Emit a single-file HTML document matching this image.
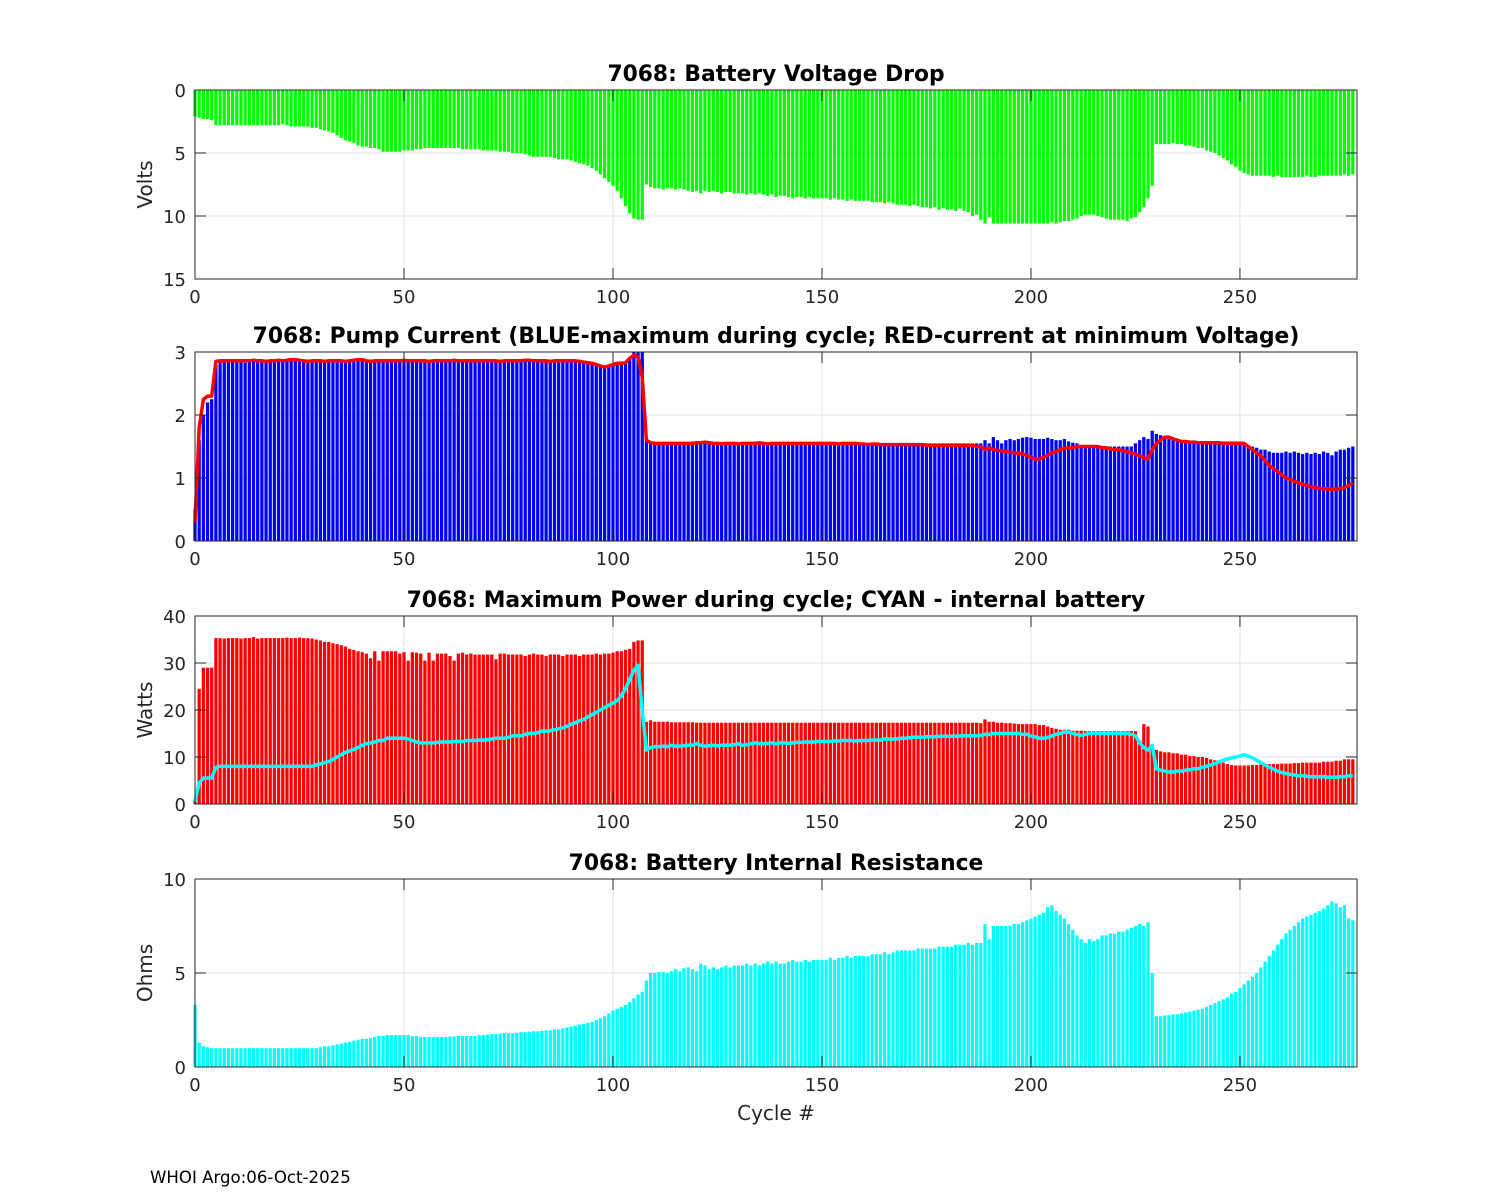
<!DOCTYPE html>
<html><head><meta charset="utf-8"><title>7068 battery diagnostics</title>
<style>
html,body{margin:0;padding:0;background:#fff;}
svg{display:block;font-family:"DejaVu Sans","Liberation Sans",sans-serif;}
</style></head>
<body>
<svg id="chart" width="1500" height="1200" viewBox="0 0 1500 1200" xmlns="http://www.w3.org/2000/svg">
<rect width="1500" height="1200" fill="#fff"/>
<text x="150" y="1183" font-size="16.6" fill="#000">WHOI Argo:06-Oct-2025</text>
<text x="776" y="1120" font-size="20" fill="#262626" text-anchor="middle">Cycle #</text>
</svg>
<script>
// ---------- data ----------
const xTicks = [0,50,100,150,200,250];
const voltageDrop = [
2.1,2.2,2.3,2.3,2.4,2.8,2.8,2.8,2.8,2.8,
2.8,2.8,2.8,2.8,2.8,2.8,2.8,2.8,2.8,2.8,
2.8,2.7,2.8,2.9,2.9,2.9,2.9,2.9,3.0,3.0,
3.1,3.2,3.3,3.4,3.6,3.8,4.0,4.1,4.2,4.4,
4.5,4.5,4.6,4.6,4.7,4.9,4.9,4.9,4.9,4.9,
4.8,4.8,4.8,4.7,4.7,4.6,4.6,4.6,4.6,4.6,
4.6,4.6,4.6,4.6,4.7,4.7,4.7,4.7,4.7,4.8,
4.8,4.8,4.8,4.9,4.9,4.9,5.0,5.0,5.0,5.1,
5.2,5.3,5.3,5.3,5.3,5.3,5.4,5.5,5.5,5.5,
5.6,5.7,5.8,5.9,6.0,6.2,6.4,6.7,7.0,7.3,
7.6,8.0,8.6,9.2,9.8,10.2,10.3,10.3,7.5,7.7,
7.8,7.8,7.9,7.8,7.8,7.9,7.8,7.9,8.0,8.1,
8.0,8.2,8.0,8.1,8.0,8.1,8.2,8.1,8.1,8.2,
8.2,8.2,8.3,8.2,8.3,8.2,8.3,8.4,8.3,8.5,
8.4,8.4,8.5,8.6,8.5,8.5,8.6,8.5,8.6,8.6,
8.6,8.6,8.7,8.6,8.7,8.7,8.8,8.7,8.8,8.8,
8.8,8.8,8.9,8.9,8.9,9.0,8.9,9.0,9.1,9.1,
9.1,9.2,9.1,9.2,9.3,9.3,9.4,9.3,9.5,9.4,
9.5,9.5,9.6,9.4,9.6,9.7,10.0,9.9,10.3,10.6,
10.1,10.6,10.6,10.6,10.6,10.6,10.6,10.6,10.6,10.6,
10.6,10.6,10.6,10.6,10.6,10.5,10.6,10.5,10.4,10.4,
10.3,10.2,10.0,9.9,9.9,9.9,10.0,10.1,10.2,10.3,
10.3,10.3,10.3,10.4,10.2,10.1,9.7,9.3,8.6,7.6,
4.3,4.3,4.3,4.3,4.2,4.3,4.3,4.4,4.4,4.5,
4.6,4.6,4.8,4.9,5.0,5.2,5.4,5.6,5.9,6.1,
6.4,6.6,6.7,6.8,6.8,6.8,6.8,6.8,6.9,6.8,
6.9,6.9,6.9,6.9,6.9,6.9,6.8,6.9,6.9,6.8,
6.8,6.8,6.8,6.8,6.8,6.7,6.8,6.7];
const maxCurrent = [
0.5,1.6,2.0,2.2,2.25,2.8,2.85,2.85,2.85,2.85,
2.85,2.85,2.83,2.85,2.87,2.85,2.85,2.83,2.85,2.85,
2.87,2.85,2.85,2.87,2.87,2.85,2.85,2.83,2.85,2.85,
2.85,2.83,2.85,2.85,2.85,2.85,2.83,2.85,2.85,2.87,
2.87,2.85,2.83,2.85,2.85,2.85,2.85,2.85,2.85,2.85,
2.87,2.85,2.85,2.85,2.85,2.85,2.83,2.85,2.85,2.85,
2.85,2.85,2.87,2.85,2.85,2.85,2.85,2.85,2.85,2.85,
2.85,2.85,2.85,2.83,2.85,2.85,2.85,2.85,2.85,2.85,
2.85,2.85,2.85,2.85,2.85,2.83,2.85,2.85,2.85,2.85,
2.85,2.85,2.85,2.83,2.82,2.8,2.8,2.78,2.76,2.78,
2.8,2.82,2.85,2.85,2.9,3.0,3.0,3.0,1.6,1.55,
1.55,1.55,1.55,1.55,1.55,1.55,1.55,1.55,1.55,1.55,
1.55,1.55,1.56,1.55,1.55,1.55,1.55,1.55,1.55,1.55,
1.55,1.55,1.55,1.55,1.55,1.55,1.55,1.55,1.55,1.55,
1.55,1.55,1.55,1.55,1.55,1.55,1.55,1.55,1.55,1.55,
1.55,1.55,1.55,1.55,1.55,1.55,1.55,1.55,1.55,1.55,
1.55,1.55,1.55,1.55,1.55,1.55,1.55,1.55,1.55,1.55,
1.55,1.55,1.55,1.55,1.55,1.55,1.55,1.55,1.55,1.55,
1.55,1.55,1.55,1.55,1.55,1.55,1.55,1.55,1.55,1.6,
1.55,1.65,1.6,1.55,1.6,1.62,1.6,1.62,1.64,1.65,
1.64,1.62,1.62,1.62,1.64,1.62,1.6,1.6,1.62,1.58,
1.56,1.55,1.5,1.5,1.5,1.5,1.5,1.5,1.5,1.5,
1.5,1.5,1.5,1.5,1.5,1.55,1.6,1.65,1.62,1.75,
1.7,1.68,1.65,1.62,1.6,1.58,1.58,1.58,1.58,1.58,
1.58,1.58,1.58,1.58,1.58,1.58,1.58,1.58,1.58,1.58,
1.58,1.55,1.52,1.5,1.48,1.45,1.45,1.42,1.4,1.4,
1.4,1.42,1.4,1.42,1.4,1.38,1.4,1.38,1.4,1.38,
1.42,1.4,1.36,1.42,1.45,1.45,1.48,1.5];
const currentAtMinV = [
0.3,1.8,2.25,2.3,2.3,2.85,2.86,2.86,2.86,2.86,
2.86,2.86,2.86,2.86,2.87,2.86,2.86,2.85,2.86,2.86,
2.87,2.86,2.87,2.88,2.88,2.87,2.86,2.85,2.86,2.86,
2.86,2.85,2.86,2.86,2.86,2.86,2.85,2.86,2.87,2.88,
2.88,2.86,2.85,2.86,2.86,2.86,2.86,2.86,2.86,2.86,
2.87,2.86,2.86,2.86,2.86,2.86,2.85,2.86,2.86,2.86,
2.86,2.86,2.87,2.86,2.86,2.86,2.86,2.86,2.86,2.86,
2.86,2.86,2.86,2.85,2.86,2.86,2.86,2.86,2.86,2.87,
2.87,2.86,2.86,2.86,2.86,2.85,2.86,2.86,2.86,2.86,
2.86,2.86,2.85,2.84,2.83,2.82,2.8,2.78,2.76,2.78,
2.8,2.82,2.82,2.83,2.9,2.95,2.92,2.6,1.6,1.56,
1.55,1.55,1.55,1.55,1.55,1.55,1.55,1.55,1.55,1.55,
1.56,1.56,1.57,1.56,1.55,1.55,1.54,1.55,1.55,1.55,
1.54,1.55,1.55,1.55,1.55,1.56,1.55,1.54,1.55,1.55,
1.55,1.55,1.55,1.55,1.55,1.55,1.55,1.55,1.55,1.55,
1.55,1.55,1.55,1.55,1.54,1.55,1.55,1.55,1.55,1.54,
1.54,1.53,1.54,1.54,1.53,1.53,1.53,1.53,1.53,1.53,
1.53,1.53,1.53,1.53,1.53,1.52,1.52,1.52,1.52,1.52,
1.52,1.52,1.52,1.52,1.52,1.52,1.52,1.5,1.5,1.45,
1.48,1.45,1.44,1.43,1.42,1.41,1.4,1.39,1.38,1.36,
1.33,1.3,1.3,1.33,1.36,1.4,1.42,1.45,1.47,1.48,
1.48,1.5,1.5,1.5,1.5,1.5,1.5,1.48,1.48,1.46,
1.45,1.45,1.43,1.42,1.4,1.38,1.35,1.32,1.3,1.45,
1.55,1.6,1.65,1.65,1.62,1.6,1.58,1.58,1.57,1.57,
1.56,1.56,1.56,1.56,1.56,1.56,1.55,1.55,1.55,1.55,
1.55,1.55,1.5,1.45,1.4,1.35,1.28,1.2,1.15,1.1,
1.05,1.0,0.98,0.95,0.92,0.9,0.88,0.86,0.85,0.84,
0.83,0.83,0.82,0.82,0.83,0.85,0.88,0.92];
const maxPower = [
1,24.5,29,29,29,35.3,35.3,35.2,35.3,35.3,
35.3,35.2,35.3,35.3,35.5,35.2,35.3,35.3,35.3,35.3,
35.3,35.3,35.4,35.3,35.3,35.4,35.3,35.3,35.2,35,
34.8,34.5,34.5,34.2,34,33.8,33.5,33,32.8,32.5,
32.3,32,31,32.5,30.5,32.5,32.5,32.5,32.5,32,
32.3,30.5,32.3,32.2,32,30.5,32.2,30.5,32,32,
32,31.5,30.5,32,32.2,31.8,32,31.8,31.8,31.8,
31.8,31.8,30.8,32,32,31.8,31.8,31.8,31.8,31.5,
31.8,32,31.8,31.8,31.5,31.8,31.8,31.8,31.5,31.8,
31.8,31.8,31.5,31.8,31.8,31.8,32,31.8,32,32,
32.2,32.5,32.5,32.8,33,34.5,34.8,34.8,17.5,17.8,
17.5,17.5,17.5,17.5,17.4,17.4,17.4,17.4,17.4,17.4,
17.3,17.3,17.3,17.3,17.3,17.3,17.3,17.3,17.3,17.3,
17.3,17.3,17.3,17.3,17.3,17.3,17.3,17.3,17.3,17.3,
17.3,17.3,17.3,17.3,17.3,17.3,17.3,17.3,17.3,17.3,
17.3,17.3,17.3,17.3,17.3,17.3,17.3,17.3,17.3,17.3,
17.3,17.3,17.3,17.3,17.3,17.3,17.3,17.3,17.3,17.3,
17.3,17.3,17.3,17.3,17.3,17.3,17.3,17.3,17.3,17.3,
17.3,17.3,17.3,17.3,17.3,17.3,17.3,17.3,17.2,18,
17.5,17.5,17.3,17.3,17.2,17.2,17.1,17,17,17,
17,17,16.8,16.8,16.5,16.2,16,15.8,15.8,15.8,
15.6,15.6,15.6,15.5,15.5,15.5,15.5,15.5,15.5,15.5,
15.5,15.5,15.5,15.5,15.5,15.5,13.5,17,16.5,12,
11.5,11.2,11,11,10.8,10.8,10.5,10.5,10.2,10.2,
10,10,9.8,9.5,9.3,9,8.8,8.5,8.3,8.2,
8.2,8.2,8.2,8.3,8.3,8.4,8.4,8.5,8.5,8.5,
8.6,8.6,8.6,8.7,8.7,8.8,8.8,8.8,8.8,8.8,
9,9,9,9.2,9.2,9.5,9.5,9.5];
const internalPower = [
0.5,4.5,5.5,5.5,5.5,7.8,8,8,8,8,
8,8,8,8,8,8,8,8,8,8,
8,8,8,8,8,8,8,8,8,8.3,
8.5,8.8,9,9.5,10,10.5,11,11.3,11.6,12,
12.5,12.8,13,13.2,13.5,13.5,14,14,14,14,
14,13.8,13.5,13.2,13,13,13,13,13.1,13.2,
13.2,13.2,13.3,13.3,13.3,13.5,13.5,13.5,13.6,13.6,
13.7,13.8,14,14,14,14.2,14.5,14.5,14.5,14.8,
15,15,15.2,15.5,15.5,15.6,15.8,16,16.2,16.5,
17,17.3,17.7,18,18.5,19,19.5,20,20.5,21,
21.5,22,23,24.5,26.5,28.5,29.5,20,11.5,12,
12.2,12.2,12.3,12.2,12.5,12.3,12.3,12.4,12.5,12.5,
12.8,12.5,12.3,12.4,12.5,12.4,12.5,12.5,12.5,12.6,
12.8,12.5,12.6,12.8,13,12.8,12.8,12.9,13,12.8,
13,13,12.9,13,13.1,13.1,13.2,13.2,13.2,13.3,
13.3,13.3,13.3,13.4,13.4,13.5,13.5,13.5,13.4,13.5,
13.5,13.5,13.6,13.6,13.6,13.8,13.8,13.8,13.9,14,
14,14.1,14.2,14.2,14.2,14.3,14.3,14.3,14.4,14.4,
14.4,14.4,14.4,14.5,14.5,14.5,14.5,14.5,14.6,14.8,
14.8,15,15,15,15,15,15,15,14.8,14.8,
14.5,14.3,14,14,14.2,14.5,14.8,15,15.3,15.3,
15,14.8,14.6,14.8,15,15,15,15,15,15,
15,15,15,15,14.8,14.5,13,12,11.5,12.5,
7.5,7.2,7,6.8,6.8,7,7,7.2,7.3,7.5,
7.5,7.8,8,8.3,8.6,9,9.3,9.6,9.8,10,
10.2,10.5,10.2,9.8,9.3,8.8,8.3,7.8,7.4,7,
6.7,6.5,6.3,6.2,6,6,5.9,5.8,5.8,5.8,
5.8,5.7,5.7,5.7,5.8,5.8,6,6];
const resistance = [
3.3,1.3,1.1,1.05,1.0,1.0,1.0,1.0,1.0,1.0,
1.0,1.0,1.0,1.0,1.0,1.0,1.0,1.0,1.0,1.0,
1.0,1.0,1.0,1.0,1.0,1.0,1.0,1.0,1.0,1.0,
1.05,1.1,1.1,1.15,1.2,1.25,1.3,1.35,1.4,1.45,
1.5,1.5,1.55,1.6,1.65,1.65,1.7,1.7,1.7,1.7,
1.7,1.7,1.65,1.65,1.6,1.6,1.6,1.6,1.6,1.6,
1.6,1.62,1.62,1.65,1.65,1.65,1.65,1.65,1.7,1.7,
1.72,1.75,1.75,1.78,1.8,1.8,1.8,1.82,1.85,1.85,
1.88,1.9,1.9,1.92,1.95,1.95,2.0,2.0,2.05,2.1,
2.15,2.2,2.25,2.3,2.35,2.4,2.5,2.6,2.7,2.85,
3.0,3.1,3.2,3.3,3.45,3.65,3.85,4.0,4.6,5.0,
5.0,5.05,5.05,5.0,5.1,5.2,5.1,5.25,5.3,5.2,
5.1,5.5,5.4,5.2,5.3,5.2,5.3,5.4,5.3,5.4,
5.4,5.4,5.5,5.4,5.5,5.4,5.5,5.6,5.5,5.6,
5.5,5.5,5.6,5.7,5.6,5.6,5.7,5.6,5.7,5.7,
5.7,5.7,5.8,5.7,5.8,5.8,5.9,5.8,5.9,5.9,
5.9,5.9,6.0,6.0,6.0,6.1,6.0,6.1,6.2,6.2,
6.2,6.2,6.2,6.3,6.3,6.3,6.3,6.3,6.4,6.4,
6.4,6.4,6.5,6.5,6.5,6.6,6.5,6.6,6.6,7.6,
6.8,7.5,7.5,7.5,7.5,7.5,7.6,7.6,7.7,7.8,
7.9,8.0,8.1,8.2,8.5,8.6,8.3,8.1,7.9,7.6,
7.3,7.0,6.8,6.6,6.8,6.7,6.8,7.0,7.0,7.1,
7.1,7.2,7.2,7.3,7.4,7.5,7.6,7.5,7.7,5.0,
2.7,2.7,2.75,2.75,2.8,2.8,2.85,2.9,2.95,3.0,
3.05,3.1,3.2,3.3,3.4,3.5,3.6,3.7,3.9,4.0,
4.2,4.4,4.6,4.8,5.0,5.3,5.6,5.9,6.2,6.5,
6.8,7.1,7.3,7.5,7.7,7.9,8.0,8.1,8.2,8.3,
8.4,8.6,8.8,8.7,8.5,8.6,7.9,7.8];
const voltTicks = [0,5,10,15];
const currentTicks = [0,1,2,3];
const powerTicks = [0,10,20,30,40];
const ohmTicks = [0,5,10];

// ---------- drawing ----------
const NS = "http://www.w3.org/2000/svg";
const svg = document.getElementById('chart');
const X0 = 195, X1 = 1357, XMAX = 278;
function xs(v){ return X0 + (v / XMAX) * (X1 - X0); }
function mk(tag, attrs, parent){
  const e = document.createElementNS(NS, tag);
  for (const k in attrs) e.setAttribute(k, attrs[k]);
  (parent || svg).appendChild(e);
  return e;
}

function panel(cfg){
  const g = mk('g', {});
  
  
  const ys = v => cfg.rev ? cfg.top + (v - cfg.ymin) / (cfg.ymax - cfg.ymin) * (cfg.bot - cfg.top)
                          : cfg.bot - (v - cfg.ymin) / (cfg.ymax - cfg.ymin) * (cfg.bot - cfg.top);
  xTicks.forEach(t => {
    const l = mk('line', {x1: xs(t), x2: xs(t), y1: cfg.top, y2: cfg.bot, stroke: '#e3e3e3', 'stroke-width': 1}, g);
    
    
  });
  cfg.yTicks.forEach(t => {
    const l = mk('line', {x1: X0, x2: X1, y1: ys(t), y2: ys(t), stroke: '#e3e3e3', 'stroke-width': 1}, g);
    
    
  });
  const bw = 0.78 * (X1 - X0) / XMAX;
  const base = ys(cfg.ymin);
  cfg.bars.forEach((v, i) => {
    const y = ys(v);
    const r = mk('rect', {x: xs(i) - bw/2, y: Math.min(base, y), width: bw, height: Math.abs(y - base), fill: cfg.barColor}, g);
    
    
  });
  if (cfg.line){
    const d = cfg.line.map((v, i) => (i ? 'L' : 'M') + xs(i).toFixed(1) + ' ' + ys(v).toFixed(1)).join('');
    const p = mk('path', {d: d, fill: 'none', stroke: cfg.lineColor, 'stroke-width': 3.5, 'stroke-linejoin': 'round'}, g);
    
    
  }
  const box = mk('rect', {x: X0, y: cfg.top, width: X1 - X0, height: cfg.bot - cfg.top, fill: 'none', stroke: '#262626', 'stroke-width': 1}, g);
  
  
  xTicks.forEach(t => {
    mk('line', {x1: xs(t), x2: xs(t), y1: cfg.bot, y2: cfg.bot - 11, stroke: '#262626'}, g);
    mk('line', {x1: xs(t), x2: xs(t), y1: cfg.top, y2: cfg.top + 11, stroke: '#262626'}, g);
    const tx = mk('text', {x: xs(t), y: cfg.bot + 24, 'font-size': 18, fill: '#262626', 'text-anchor': 'middle'}, g);
    tx.textContent = t;
    
    
  });
  cfg.yTicks.forEach(t => {
    mk('line', {x1: X0, x2: X0 + 11, y1: ys(t), y2: ys(t), stroke: '#262626'}, g);
    mk('line', {x1: X1, x2: X1 - 11, y1: ys(t), y2: ys(t), stroke: '#262626'}, g);
    const tx = mk('text', {x: X0 - 9, y: ys(t) + 7, 'font-size': 18, fill: '#262626', 'text-anchor': 'end'}, g);
    tx.textContent = t;
    
    
  });
  const ti = mk('text', {x: (X0 + X1)/2, y: cfg.top - 9, 'font-size': 21.8, 'font-weight': 'bold', fill: '#000', 'text-anchor': 'middle'}, g);
  ti.textContent = cfg.title;
  
  
  if (cfg.ylabel){
    const cy = (cfg.top + cfg.bot)/2;
    const yl = mk('text', {x: 152, y: cy, 'font-size': 20, fill: '#262626', 'text-anchor': 'middle', transform: 'rotate(-90 152 ' + cy + ')'}, g);
    yl.textContent = cfg.ylabel;
    
    
  }
}

panel({name: 'voltage-drop-panel', top: 90, bot: 279, ymin: 0, ymax: 15, rev: true, yTicks: voltTicks,
  bars: voltageDrop, barColor: '#00ff00', title: '7068: Battery Voltage Drop', ylabel: 'Volts'});
panel({name: 'pump-current-panel', top: 352, bot: 541, ymin: 0, ymax: 3, rev: false, yTicks: currentTicks,
  bars: maxCurrent, barColor: '#0000ff', line: currentAtMinV, lineColor: '#ff0000', lineName: 'current-at-min-voltage-line',
  title: '7068: Pump Current (BLUE-maximum during cycle; RED-current at minimum Voltage)', ylabel: ''});
panel({name: 'max-power-panel', top: 616, bot: 804, ymin: 0, ymax: 40, rev: false, yTicks: powerTicks,
  bars: maxPower, barColor: '#ff0000', line: internalPower, lineColor: '#00ffff', lineName: 'internal-battery-power-line',
  title: '7068: Maximum Power during cycle; CYAN - internal battery', ylabel: 'Watts'});
panel({name: 'internal-resistance-panel', top: 879, bot: 1067, ymin: 0, ymax: 10, rev: false, yTicks: ohmTicks,
  bars: resistance, barColor: '#00ffff', title: '7068: Battery Internal Resistance', ylabel: 'Ohms'});
</script>
</body></html>
